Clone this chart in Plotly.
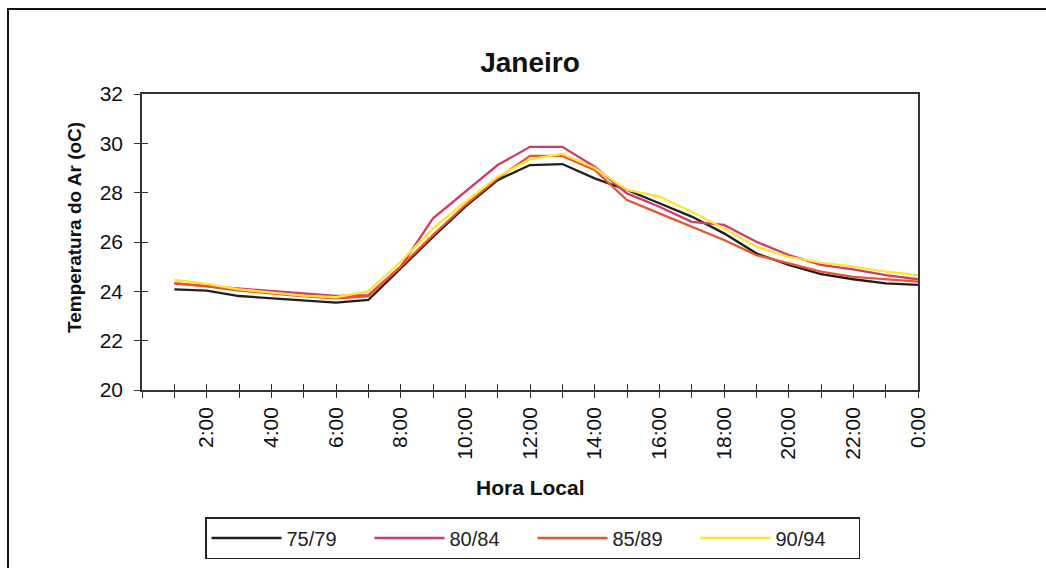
import plotly.graph_objects as go

# Hourly mean air temperature, January, by five-year period
horas = list(range(1, 25))
rotulos_horas = ["2:00", "4:00", "6:00", "8:00", "10:00", "12:00",
                 "14:00", "16:00", "18:00", "20:00", "22:00", "0:00"]

t_75_79 = [24.08, 24.03, 23.81, 23.72, 23.62, 23.54, 23.65, 24.93, 26.21, 27.43,
           28.51, 29.12, 29.16, 28.58, 28.11, 27.57, 27.03, 26.35, 25.54, 25.07,
           24.70, 24.49, 24.32, 24.26]
t_80_84 = [24.32, 24.22, 24.12, 23.99, 23.89, 23.81, 23.85, 25.00, 26.96, 28.04,
           29.12, 29.86, 29.86, 29.05, 27.97, 27.43, 26.82, 26.69, 26.01, 25.47,
           25.07, 24.89, 24.66, 24.49]
t_85_89 = [24.32, 24.20, 24.03, 23.90, 23.80, 23.72, 23.80, 25.00, 26.28, 27.50,
           28.58, 29.49, 29.49, 28.92, 27.70, 27.16, 26.62, 26.08, 25.47, 25.13,
           24.80, 24.59, 24.49, 24.39]
t_90_94 = [24.46, 24.30, 24.08, 23.94, 23.83, 23.76, 24.01, 25.20, 26.55, 27.63,
           28.65, 29.35, 29.57, 29.00, 28.11, 27.84, 27.23, 26.55, 25.81, 25.40,
           25.16, 25.00, 24.80, 24.66]

series = [
    ("75/79", t_75_79, "#1f1f1f"),
    ("80/84", t_80_84, "#d23a6c"),
    ("85/89", t_85_89, "#e8552f"),
    ("90/94", t_90_94, "#ffe433"),
]

fonte = "Liberation Sans, Arial, sans-serif"
W, H = 1046, 568
L, R, T, B = 142, 918, 94, 390  # plot area in pixels

fig = go.Figure()
for nome, valores, cor in series:
    fig.add_trace(go.Scatter(
        x=horas, y=valores, mode="lines", name=nome,
        line=dict(color=cor, width=2.3),
    ))

# invisible trace carrying the inner half of the crossing tick marks
fig.add_trace(go.Scatter(
    x=horas, y=t_75_79, xaxis="x2", yaxis="y2", mode="lines",
    line=dict(width=0), showlegend=False, hoverinfo="skip", opacity=0,
))

valores_ticks = list(range(0, 25))
texto_ticks = [""] * 25
for i, rot in enumerate(rotulos_horas):
    texto_ticks[2 * (i + 1)] = rot

eixo_x = dict(range=[0, 24], tickmode="array", tickvals=valores_ticks,
              showgrid=False, zeroline=False, automargin=False)
eixo_y = dict(range=[20, 32], dtick=2, showgrid=False, zeroline=False,
              automargin=False)

fig.update_layout(
    width=W, height=H,
    margin=dict(l=L, r=W - R, t=T, b=H - B),
    paper_bgcolor="white", plot_bgcolor="white",
    font=dict(family=fonte, color="#111111"),
    title=dict(text="<b>Janeiro</b>", x=0.5, xref="paper", xanchor="center",
               y=1 - 62 / H, yanchor="middle",
               font=dict(size=28, family=fonte, color="#111111")),
    xaxis=dict(**eixo_x, ticktext=texto_ticks, tickangle=-90,
               ticks="outside", ticklen=6, tickwidth=1, tickcolor="#333333",
               showline=True, linecolor="#333333", linewidth=1.5, mirror=True,
               ticklabelstandoff=1,
               tickfont=dict(size=21, family=fonte, color="#111111")),
    yaxis=dict(**eixo_y, ticks="outside", ticklen=6, tickwidth=1,
               tickcolor="#333333", showline=True, linecolor="#333333",
               linewidth=1.5, mirror=True, ticklabelstandoff=7,
               tickfont=dict(size=21, family=fonte, color="#111111")),
    xaxis2=dict(**eixo_x, overlaying="x", anchor="y2", side="bottom",
                ticktext=[""] * 25, ticks="inside", ticklen=6, tickwidth=1,
                tickcolor="#333333", showline=False, showticklabels=False),
    yaxis2=dict(**eixo_y, overlaying="y", anchor="x2", side="left",
                ticks="inside", ticklen=6, tickwidth=1, tickcolor="#333333",
                showline=False, showticklabels=False),
    legend=dict(orientation="h", xref="container", yref="container",
                x=205 / W, y=1 - 517 / H, xanchor="left", yanchor="top",
                bordercolor="#222222", borderwidth=1.5, bgcolor="white",
                entrywidth=78, entrywidthmode="pixels",
                font=dict(size=20, family=fonte, color="#222222"),
                itemwidth=70),
    showlegend=True,
    annotations=[
        dict(text="<b>Temperatura do Ar (oC)</b>", textangle=-90,
             xref="paper", yref="paper", x=(74 - L) / (R - L),
             y=(B - 228) / (B - T), xanchor="center", yanchor="middle",
             showarrow=False, font=dict(size=19, family=fonte, color="#111111")),
        dict(text="<b>Hora Local</b>", xref="paper", yref="paper",
             x=(530 - L) / (R - L), y=(B - 487) / (B - T),
             xanchor="center", yanchor="middle", showarrow=False,
             font=dict(size=21, family=fonte, color="#111111")),
    ],
    shapes=[dict(type="rect", xref="paper", yref="paper",
                 x0=(8 - L) / (R - L), x1=(W + 6 - L) / (R - L),
                 y0=(B - H - 6) / (B - T), y1=(B - 9) / (B - T),
                 line=dict(color="#111111", width=2), layer="below")],
)

fig.write_html("out.html")
